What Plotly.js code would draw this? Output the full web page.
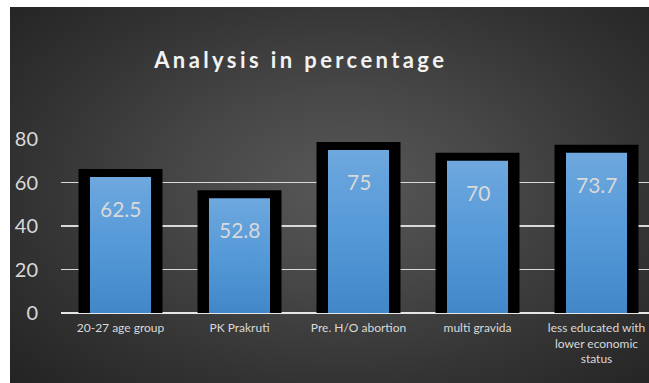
<!DOCTYPE html>
<html>
<head>
<meta charset="utf-8">
<script src="https://cdn.plot.ly/plotly-3.0.1.min.js"></script>
<style>
  html, body { margin: 0; padding: 0; background: #ffffff; width: 649px; height: 383px; overflow: hidden; }
  #chart {
    position: absolute; left: 10px; top: 7px; width: 639px; height: 376px;
    background: radial-gradient(ellipse 70% 75% at 52% 48%, #585858 0%, #474747 35%, #333333 70%, #242424 100%);
  }
  #chart .gtitle { letter-spacing: 3.4px; }
</style>
</head>
<body>
<div id="chart"></div>
<script>
// Share of cases (%) for each factor
const categories = ["20-27 age group", "PK Prakruti", "Pre. H/O abortion", "multi gravida", "less educated with<br>lower economic<br>status"];
const percentages = [62.5, 52.8, 75, 70, 73.7];

const labelColor = "#d9d9d9";

// Black frame behind each bar
const frameTrace = {
  type: "bar",
  x: categories,
  y: percentages,
  width: 0.571,
  marker: { color: "#000000", line: { color: "#000000", width: 16 } },
  hoverinfo: "skip",
  cliponaxis: true,
  showlegend: false
};

// Blue value bar
const valueTrace = {
  type: "bar",
  x: categories,
  y: percentages,
  width: 0.513,
  marker: { color: "#5599d8", line: { width: 0 } },
  showlegend: false
};

// Value labels near the top inside each bar
const valueLabels = categories.map((c, i) => ({
  x: c, y: percentages[i], xref: "x", yref: "y",
  text: String(percentages[i]),
  showarrow: false, yanchor: "top", yshift: -17,
  font: { family: "Lato, 'Open Sans', sans-serif", size: 21, color: labelColor }
}));

const layout = {
  width: 639, height: 376,
  paper_bgcolor: "rgba(0,0,0,0)",
  plot_bgcolor: "rgba(0,0,0,0)",
  margin: { l: 51, r: 0, t: 132, b: 70 },
  barmode: "overlay",
  title: {
    text: "<b>Analysis in percentage</b>",
    font: { family: "Lato, 'Open Sans', sans-serif", size: 22, color: "#f2f2f2" },
    xref: "container", yref: "container",
    x: 0.455, xanchor: "center", y: 0.858, yanchor: "middle"
  },
  xaxis: {
    type: "category",
    range: [-0.5, 4.441],
    showgrid: false, zeroline: false, showline: false,
    ticks: "", ticklabelstandoff: 6,
    tickfont: { family: "Lato, 'Open Sans', sans-serif", size: 12, color: labelColor }
  },
  yaxis: {
    range: [0, 80],
    dtick: 20, tick0: 0,
    showgrid: true, gridcolor: "#d9d9d9", gridwidth: 1.6,
    zeroline: true, zerolinecolor: "#e6e6e6", zerolinewidth: 2.2,
    showline: false, ticks: "", ticklabelstandoff: 22,
    tickfont: { family: "Lato, 'Open Sans', sans-serif", size: 20, color: labelColor }
  },
  annotations: valueLabels,
  showlegend: false
};

Plotly.newPlot("chart", [frameTrace, valueTrace], layout, { displayModeBar: false, staticPlot: true }).then(gd => {
  // Vertical shading on the blue bars: lighter at the top, deeper at the base
  const svg = gd.querySelector("svg.main-svg");
  const ns = "http://www.w3.org/2000/svg";
  let defs = svg.querySelector("defs");
  if (!defs) { defs = document.createElementNS(ns, "defs"); svg.insertBefore(defs, svg.firstChild); }
  const grad = document.createElementNS(ns, "linearGradient");
  grad.setAttribute("id", "barShade");
  grad.setAttribute("x1", "0"); grad.setAttribute("y1", "0");
  grad.setAttribute("x2", "0"); grad.setAttribute("y2", "1");
  [["0", "#6ea8de"], ["0.5", "#5599d8"], ["1", "#4287c8"]].forEach(([o, c]) => {
    const s = document.createElementNS(ns, "stop");
    s.setAttribute("offset", o); s.setAttribute("stop-color", c);
    grad.appendChild(s);
  });
  defs.appendChild(grad);
  const traces = gd.querySelectorAll(".barlayer .trace");
  if (traces.length > 1) {
    traces[1].querySelectorAll("path").forEach(p => { p.style.fill = "url(#barShade)"; });
  }
});
</script>
</body>
</html>
